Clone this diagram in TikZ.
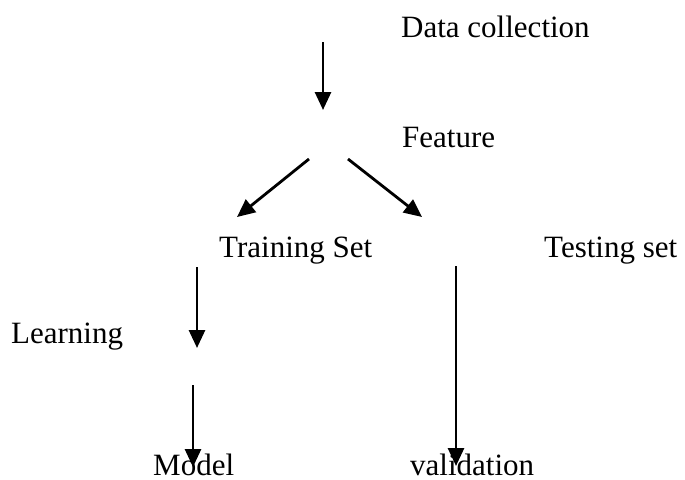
\documentclass[tikz,border=0pt]{standalone}
\usepackage{fontspec}
\setmainfont{Liberation Serif}
\usetikzlibrary{arrows.meta}
\begin{document}
\begin{tikzpicture}[x=1pt,y=-1pt,
  lbl/.style={anchor=base west,inner sep=0pt,font=\fontsize{31}{37}\selectfont},
  arr/.style={line width=2.8pt,-{Triangle[width=16pt,length=18pt]}}]
\useasboundingbox (0,0) rectangle (685,479);
\node[lbl] (dc) at (401,37) {Data collection};
\node[lbl] (feat) at (402,147) {Feature};
\node[lbl] (train) at (219,257) {Training Set};
\node[lbl] (test) at (544,257) {Testing set};
\node[lbl] (learn) at (11,343) {Learning};
\node[lbl,text depth=0pt] (model) at (153,475) {Model};
\node[lbl,text depth=0pt] (valid) at (410,475) {validation};
\coordinate (a1s) at (323,42);  \coordinate (a1e) at (323,110);
\coordinate (a2s) at (309,159); \coordinate (a2e) at (237,217);
\coordinate (a3s) at (348,159); \coordinate (a3e) at (422,217);
\coordinate (a4s) at (197,267); \coordinate (a4e) at (197,348);
\coordinate (a5s) at (193,385); \coordinate (a5e) at (193,467);
\coordinate (a6s) at (456,266); \coordinate (a6e) at (456,466);
\draw[arr] (a1s) -- (a1e);
\draw[arr] (a2s) -- (a2e);
\draw[arr] (a3s) -- (a3e);
\draw[arr] (a4s) -- (a4e);
\draw[arr] (a5s) -- (a5e);
\draw[arr] (a6s) -- (a6e);
\end{tikzpicture}
\end{document}
